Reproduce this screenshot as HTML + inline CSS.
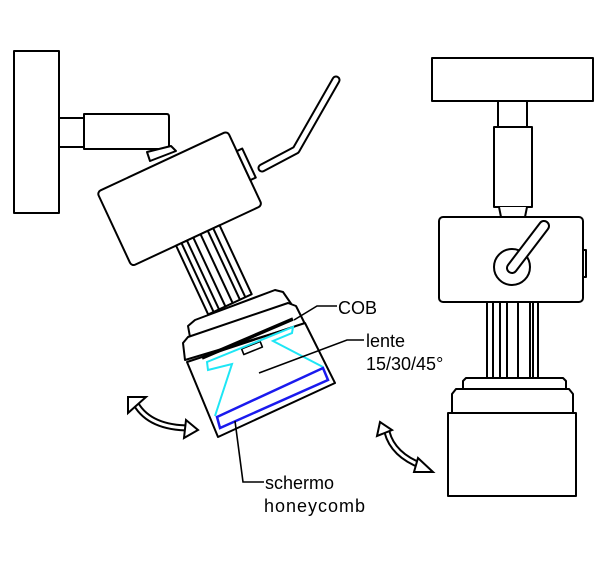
<!DOCTYPE html>
<html><head><meta charset="utf-8"><style>
html,body{margin:0;padding:0;background:#fff}
svg{display:block}
text{font-family:"Liberation Sans",sans-serif;font-size:18px;fill:#000}
</style></head><body>
<svg width="601" height="588" viewBox="0 0 601 588" xmlns="http://www.w3.org/2000/svg">
<g fill="#fff" stroke="#000" stroke-width="2" stroke-linejoin="round">
<rect x="14" y="51" width="45" height="162"/>
<rect x="59" y="118" width="25" height="29"/>
<path d="M84 114 H167 Q169 114 169 117 V149 H84 Z"/>
<path d="M147 152 L150 161 L176 151 L171 146 Z"/>
<polyline points="262,168 296,150 336,80" fill="none" stroke-width="9" stroke-linecap="round"/>
<polyline points="262,168 296,150 336,80" fill="none" stroke="#fff" stroke-width="5" stroke-linecap="round"/>
<g transform="translate(97,192) rotate(-25)">
<rect x="0" y="0" width="144" height="82" rx="4"/>
<rect x="144" y="22" width="6" height="32"/>
<rect x="49" y="82" width="48" height="76"/>
<line x1="55" y1="82" x2="55" y2="158"/><line x1="61" y1="82" x2="61" y2="158"/>
<line x1="68" y1="82" x2="68" y2="158"/><line x1="76" y1="82" x2="76" y2="158"/>
<line x1="84" y1="82" x2="84" y2="158"/><line x1="90" y1="82" x2="90" y2="158"/>
</g>
<path d="M190 337 L188 326 L195 320 L275 290 L283 292 L292 305 Z"/>
<path d="M185 360 L183 343 L188 337 L288 303 L296 306 L305 324 Z"/>
<path d="M187 362 L305 323 L335 383 L218 437 Z"/>
<line x1="202" y1="358" x2="293" y2="319" stroke-width="3.5"/>
<g transform="translate(252,348) rotate(-22)"><rect x="-10" y="-3" width="20" height="6" stroke-width="1.6"/></g>
</g>
<polyline points="215,416 232,364 208,370 207,362 293,327 292,333 273,341 323,367" fill="none" stroke="#1ee6f5" stroke-width="2"/>
<polygon points="217,417 323,368 328,380 220,428" fill="none" stroke="#1a1aee" stroke-width="2.5"/>
<g fill="none" stroke="#000" stroke-width="1.6">
<polyline points="294,320 317,306 337,306"/>
<polyline points="259,373 347,340 364,340"/>
<polyline points="235,421 243,482 264,482"/>
</g>
<text x="338" y="314">COB</text>
<text x="366" y="347">lente</text>
<text x="366" y="370">15/30/45°</text>
<text x="265" y="489">schermo</text>
<text x="264" y="512" style="letter-spacing:1px">honeycomb</text>
<g fill="none" stroke-linecap="butt">
<path d="M136 404 Q150 428 190 428" stroke="#000" stroke-width="7"/>
<path d="M136 404 Q150 428 190 428" stroke="#fff" stroke-width="3"/>
<path d="M387 432 Q393 455 422 466" stroke="#000" stroke-width="7"/>
<path d="M387 432 Q393 455 422 466" stroke="#fff" stroke-width="3"/>
</g>
<g fill="#fff" stroke="#000" stroke-width="2" stroke-linejoin="miter">
<polygon points="128,397 146,397 128,413"/>
<polygon points="186,420 198,430 184,438"/>
<polygon points="380,422 392,430 377,436"/>
<polygon points="418,458 433,472 414,472"/>
</g>
<g fill="#fff" stroke="#000" stroke-width="2" stroke-linejoin="round">
<rect x="432" y="58" width="161" height="43"/>
<rect x="498" y="101" width="29" height="26"/>
<rect x="494" y="127" width="38" height="80"/>
<path d="M499 207 L501 217 H525 L527 207"/>
<rect x="487" y="302" width="51" height="76"/>
<line x1="493" y1="302" x2="493" y2="378"/><line x1="500" y1="302" x2="500" y2="378"/>
<line x1="507" y1="302" x2="507" y2="378"/><line x1="518" y1="302" x2="518" y2="378"/>
<line x1="530" y1="302" x2="530" y2="378"/><line x1="533" y1="302" x2="533" y2="378"/>
<rect x="439" y="217" width="144" height="85" rx="4"/>
<rect x="583" y="250" width="3" height="27"/>
<circle cx="512" cy="267" r="18"/>
<line x1="512" y1="268" x2="544" y2="226" stroke-width="12" stroke-linecap="round"/>
<line x1="512" y1="268" x2="544" y2="226" stroke="#fff" stroke-width="8" stroke-linecap="round"/>
<path d="M463 389 L463 381 L466 378 H563 L566 381 L566 389 Z"/>
<path d="M452 413 L452 394 L456 389 H569 L573 394 L573 413 Z"/>
<rect x="448" y="413" width="128" height="83"/>
</g>
</svg>
</body></html>
